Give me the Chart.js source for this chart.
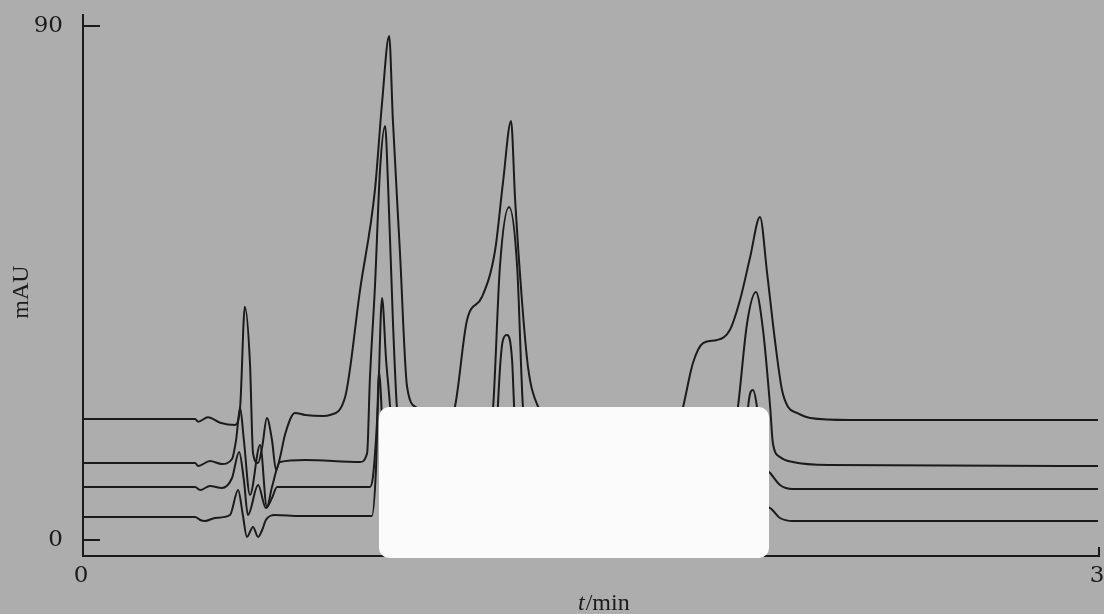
<!DOCTYPE html>
<html>
<head>
<meta charset="utf-8">
<script src="https://cdn.jsdelivr.net/npm/chart.js@4.4.1/dist/chart.umd.min.js"></script>
<style>
html, body { margin: 0; padding: 0; background: #adadad; }
canvas { display: block; }
</style>
</head>
<body>
<canvas id="chromChart" width="1104" height="614"></canvas>
<script>
// [t/min, mAU], top trace first
const trace1 = [
    [0, 21.19], [0.331, 21.19], [0.340, 20.71], [0.369, 21.48], [0.405, 20.54], [0.449, 20.14],
    [0.464, 23.34], [0.478, 40.85], [0.493, 30.99], [0.502, 15.23], [0.517, 13.48], [0.529, 16.28],
    [0.543, 21.36], [0.558, 17.51], [0.570, 12.26], [0.582, 14.53], [0.597, 18.56], [0.626, 22.24],
    [0.656, 21.89], [0.709, 21.71], [0.729, 21.89], [0.774, 25.04], [0.818, 43.77], [0.862, 61.28],
    [0.883, 76.52], [0.904, 88.25], [0.915, 73.54], [0.936, 50.25], [0.957, 26.79],
    [0.986, 23.11], [1.025, 21.19], [1.078, 21.36], [1.098, 23.29], [1.134, 38.52], [1.178, 42.55],
    [1.217, 50.78], [1.240, 62.51], [1.264, 73.37], [1.276, 59.53], [1.296, 42.02], [1.314, 30.29],
    [1.344, 23.29], [1.379, 21.36], [1.527, 21.19], [1.763, 21.19], [1.772, 23.29], [1.801, 30.99],
    [1.831, 34.49], [1.872, 35.02], [1.910, 36.77], [1.940, 42.02], [1.970, 49.55], [1.999, 56.56],
    [2.020, 46.75], [2.043, 35.02], [2.064, 26.26], [2.082, 23.29], [2.108, 22.24], [2.147, 21.36],
    [2.265, 21.01], [2.997, 21.01]
];
const trace2 = [
    [0, 13.48], [0.331, 13.48], [0.340, 12.96], [0.375, 13.83], [0.410, 13.31], [0.440, 14.18],
    [0.452, 17.51], [0.464, 23.11], [0.475, 17.51], [0.493, 7.88], [0.523, 16.63], [0.543, 5.78],
    [0.558, 9.28], [0.582, 13.66], [0.656, 14.01], [0.818, 13.66], [0.839, 15.23], [0.847, 28.02],
    [0.862, 44.30], [0.877, 64.79], [0.892, 72.49], [0.901, 61.81], [0.915, 38.52], [0.927, 23.11],
    [0.942, 17.51], [0.966, 14.01], [0.995, 13.48], [1.187, 13.48], [1.211, 23.29], [1.231, 47.80],
    [1.258, 58.31], [1.282, 47.80], [1.299, 23.29], [1.320, 14.88], [1.349, 13.48], [1.910, 13.48],
    [1.934, 23.29], [1.961, 38.00], [1.987, 43.42], [2.008, 36.77], [2.029, 23.29], [2.037, 16.98],
    [2.058, 14.53], [2.096, 13.66], [2.206, 13.13], [2.997, 12.96]
];
const trace3 = [
    [0, 9.28], [0.331, 9.28], [0.346, 8.75], [0.375, 9.46], [0.410, 9.11], [0.440, 10.86],
    [0.461, 15.41], [0.475, 10.51], [0.487, 4.38], [0.517, 9.63], [0.540, 5.60], [0.558, 7.35],
    [0.573, 9.28], [0.641, 9.28], [0.847, 9.28], [0.856, 11.03], [0.865, 17.51], [0.871, 23.99],
    [0.883, 42.37], [0.895, 31.52], [0.907, 23.11], [0.918, 12.26], [0.936, 9.28], [1.217, 9.28],
    [1.225, 23.29], [1.240, 35.02], [1.252, 35.90], [1.267, 31.52], [1.273, 23.29], [1.284, 10.51],
    [1.305, 9.11], [1.955, 9.11], [1.964, 23.29], [1.978, 26.26], [1.990, 23.29], [2.005, 14.01],
    [2.029, 11.73], [2.058, 9.63], [2.096, 8.93], [2.997, 8.93]
];
const trace4 = [
    [0, 4.03], [0.331, 4.03], [0.346, 3.50], [0.360, 3.33], [0.390, 3.85], [0.434, 4.38],
    [0.458, 8.75], [0.472, 4.38], [0.484, 0.53], [0.502, 2.28], [0.517, 0.53], [0.529, 1.75],
    [0.540, 3.50], [0.567, 4.38], [0.641, 4.20], [0.853, 4.20], [0.865, 12.26], [0.874, 29.42],
    [0.883, 21.01], [0.892, 6.13], [0.921, 3.85], [1.231, 3.85], [1.246, 12.26], [1.255, 15.76],
    [1.264, 12.26], [1.276, 3.85], [1.970, 3.68], [1.981, 10.51], [1.993, 7.00], [2.029, 5.60],
    [2.058, 3.85], [2.096, 3.33], [2.997, 3.33]
];

const yTicks = [0, 90];
const xTicks = [0, 3];
const yTitle = "mAU";
const xTitleVar = "t";
const xTitleUnit = "/min";

const INK = "#1b1b1b";
const SERIF = "'Liberation Serif', 'DejaVu Serif', serif";
const DIGITS = "'DejaVu Serif', 'Liberation Serif', serif";

const toPoints = arr => arr.map(p => ({ x: p[0], y: p[1] }));

const paperBg = {
    id: "paperBg",
    beforeDraw(chart) {
        const c = chart.ctx;
        c.save();
        c.fillStyle = "#adadad";
        c.fillRect(0, 0, chart.width, chart.height);
        c.restore();
    }
};

const hand_axes = {
    id: "handAxes",
    beforeDatasetsDraw(chart) {
        const c = chart.ctx;
        const xs = chart.scales.x, ys = chart.scales.y;
        const left = xs.getPixelForValue(xTicks[0]);
        const right = xs.getPixelForValue(xTicks[xTicks.length - 1]);
        const top = chart.chartArea.top;
        const bottom = chart.chartArea.bottom;
        c.save();
        c.strokeStyle = INK;
        c.lineWidth = 2;
        c.beginPath();
        c.moveTo(left, top);
        c.lineTo(left, bottom);
        c.lineTo(right, bottom);
        c.lineTo(right, bottom - 9);
        c.stroke();

        c.fillStyle = INK;
        c.font = "23px " + DIGITS;
        c.textAlign = "right";
        c.textBaseline = "middle";
        yTicks.forEach(v => {
            const py = ys.getPixelForValue(v);
            c.beginPath();
            c.moveTo(left, py);
            c.lineTo(left + 17, py);
            c.stroke();
            c.fillText(String(v), left - 20, py);
        });

        c.textAlign = "center";
        xTicks.forEach(v => {
            c.fillText(String(v), xs.getPixelForValue(v) - 2, bottom + 20);
        });

        // axis titles
        c.font = "24px " + SERIF;
        c.save();
        c.translate(22, 292);
        c.rotate(-Math.PI / 2);
        c.textAlign = "center";
        c.fillText(yTitle, 0, 0);
        c.restore();

        c.textAlign = "left";
        c.textBaseline = "alphabetic";
        c.font = "italic 24px " + SERIF;
        const tx = 578;
        c.fillText(xTitleVar, tx, 610);
        const w = c.measureText(xTitleVar).width;
        c.font = "24px " + SERIF;
        c.fillText(xTitleUnit, tx + w + 1, 610);
        c.restore();
    }
};

// white label patch pasted over the middle of the scan
const patch = {
    id: "patch",
    afterDatasetsDraw(chart) {
        const c = chart.ctx;
        c.save();
        c.fillStyle = "#fbfbfb";
        c.beginPath();
        c.roundRect(379, 407, 390, 151, 10);
        c.fill();
        c.restore();
    }
};

const lineStyle = {
    borderColor: INK,
    borderWidth: 2,
    pointRadius: 0,
    cubicInterpolationMode: "monotone",
    fill: false
};

new Chart(document.getElementById("chromChart"), {
    type: "line",
    data: {
        datasets: [
            { label: "1", data: toPoints(trace1), ...lineStyle },
            { label: "2", data: toPoints(trace2), ...lineStyle },
            { label: "3", data: toPoints(trace3), ...lineStyle },
            { label: "4", data: toPoints(trace4), ...lineStyle }
        ]
    },
    options: {
        responsive: false,
        animation: false,
        devicePixelRatio: 1,
        layout: { padding: { left: 83, right: 5, top: 14, bottom: 58 } },
        scales: {
            x: { type: "linear", min: 0, max: 3, display: false },
            y: { type: "linear", min: -2.8, max: 92.1, display: false }
        },
        plugins: {
            legend: { display: false },
            tooltip: { enabled: false }
        }
    },
    plugins: [paperBg, hand_axes, patch]
});
</script>
</body>
</html>
